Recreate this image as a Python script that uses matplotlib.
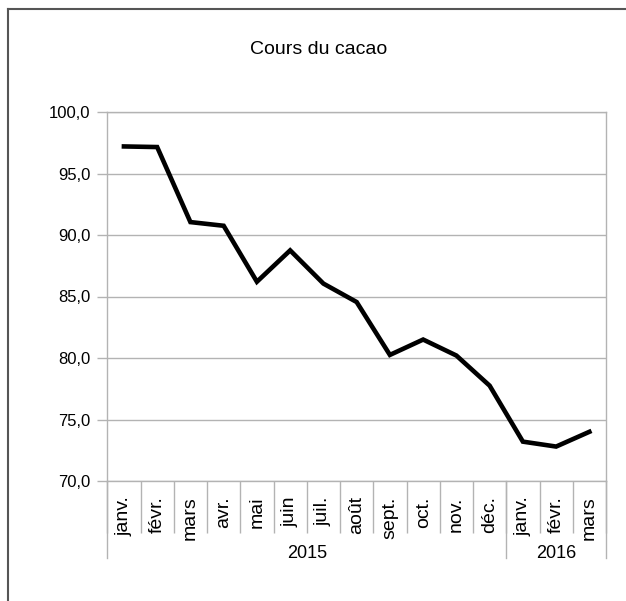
import matplotlib.pyplot as plt
from matplotlib.lines import Line2D
from matplotlib.ticker import FuncFormatter, MultipleLocator
import numpy as np

plt.rcParams['font.family'] = ['Liberation Sans', 'DejaVu Sans']

months = ['janv.', 'févr.', 'mars', 'avr.', 'mai', 'juin', 'juil.', 'août',
          'sept.', 'oct.', 'nov.', 'déc.', 'janv.', 'févr.', 'mars']
years = ['2015', '2016']
year_counts = [12, 3]
prices = [97.2, 97.15, 91.05, 90.75, 86.2, 88.75, 86.05, 84.55,
          80.25, 81.5, 80.2, 77.75, 73.2, 72.8, 74.0]

grey = '#b3b3b3'

fig = plt.figure(figsize=[6.26, 6.01], dpi=100)
ax = fig.add_axes([107.3 / 626, 1 - 481 / 601, (606 - 107.3) / 626, (481 - 112) / 601])

x = np.arange(len(months)) + 0.5
ax.plot(x, prices, color='black', linewidth=3.3, solid_joinstyle='miter')

ax.set_xlim(0, len(months))
ax.set_ylim(70, 100)
ax.yaxis.set_major_locator(MultipleLocator(5))
ax.yaxis.set_major_formatter(FuncFormatter(lambda v, p: f'{v:.1f}'.replace('.', ',')))
ax.grid(axis='y', color=grey, linewidth=1)
ax.set_axisbelow(True)
for s in ax.spines.values():
    s.set_color(grey)
    s.set_linewidth(1)

ax.tick_params(axis='y', length=7.2, width=1, color=grey, pad=5, labelsize=12)

# month labels as major ticks, separators as minor ticks
ax.set_xticks(x)
ax.set_xticklabels(months, rotation=90, fontsize=14)
ax.tick_params(axis='x', which='major', length=0, pad=11)
ax.set_xticks(np.arange(len(months) + 1), minor=True)
ax.tick_params(axis='x', which='minor', length=37.5, width=1, color=grey)

# year separators and labels
tr = ax.get_xaxis_transform()
edges = np.concatenate([[0], np.cumsum(year_counts)])
for e in edges:
    ax.add_line(Line2D([e, e], [0, -77 / 369], transform=tr, color=grey,
                       linewidth=1, clip_on=False))
for i, yr in enumerate(years):
    ax.text((edges[i] + edges[i + 1]) / 2, -72 / 369, yr, transform=tr,
            ha='center', va='center', fontsize=13)

fig.text(319 / 626, 1 - 49 / 601, 'Cours du cacao', ha='center', va='center', fontsize=14)

# outer frame (only top and left visible)
fig.add_artist(Line2D([7.5 / 626, 7.5 / 626], [0, 1 - 8.5 / 601], transform=fig.transFigure,
                      color='#555555', linewidth=1.5))
fig.add_artist(Line2D([7.5 / 626, 1], [1 - 8.5 / 601, 1 - 8.5 / 601], transform=fig.transFigure,
                      color='#555555', linewidth=1.5))

plt.savefig('out.png', dpi=100)
